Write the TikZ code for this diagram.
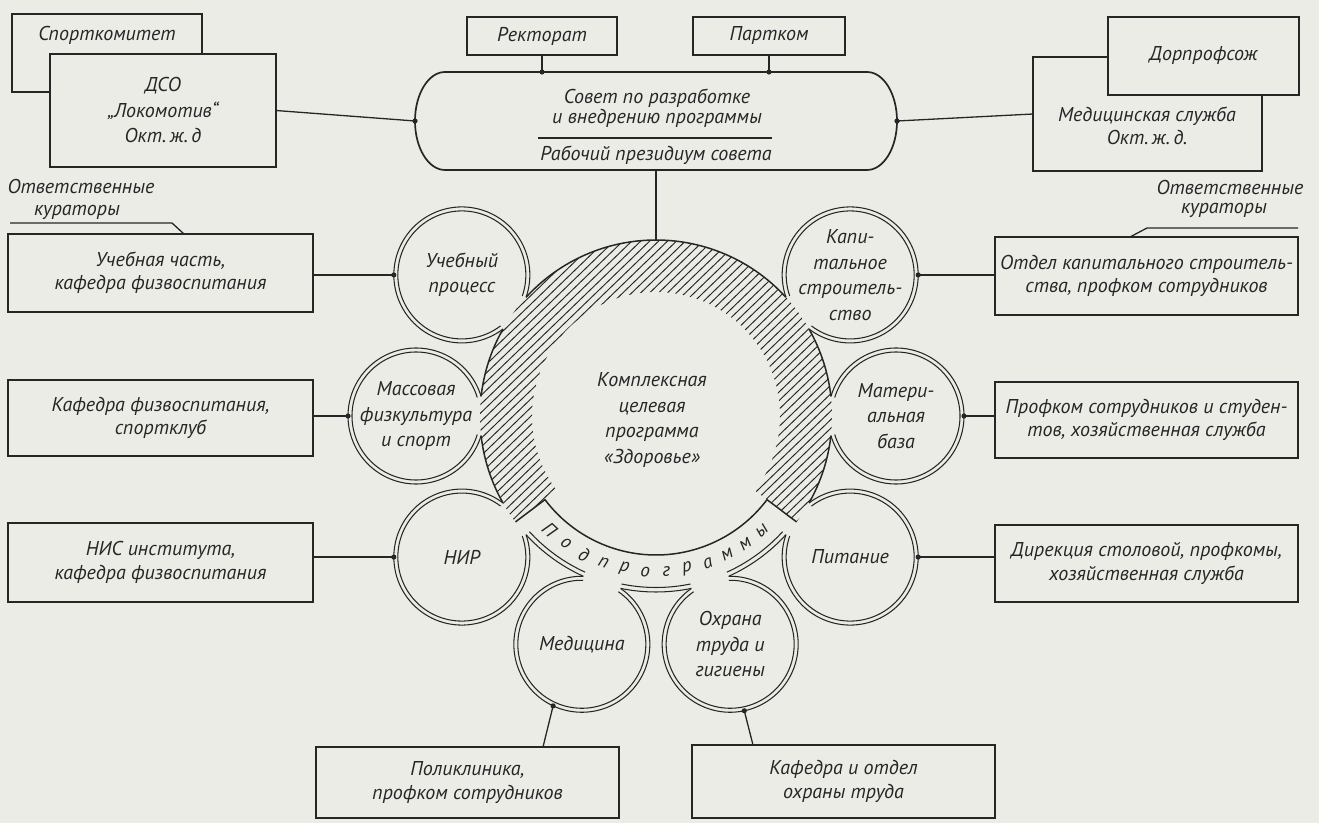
\documentclass[tikz,border=0pt]{standalone}
\usepackage{fontspec}
\setmainfont{PT Sans}
\usetikzlibrary{calc}
\definecolor{paper}{RGB}{236,236,231}
\definecolor{ink}{RGB}{38,38,38}
\begin{document}
\begin{tikzpicture}[x=1pt,y=1pt,
  txt/.style={font=\fontsize{20}{23.5}\selectfont\itshape, text=ink, inner sep=0pt, outer sep=0pt, align=center},
  wide/.style={font=\fontsize{20}{25.5}\selectfont\itshape},
  frame/.style={txt, draw=ink, line width=1.7pt, fill=paper},
  ringnode/.style={circle, minimum size=136pt, inner sep=0pt, outer sep=0pt},
  conn/.style={draw=ink, line width=1.3pt},
  rim/.style={draw=ink, line width=1.5pt},
  dbl/.style={draw=ink, line width=1.05pt},
  hatch/.style={draw=ink, line width=0.95pt},
  dot/.style={fill=ink},
]
\fill[paper] (0,0) rectangle (1319,823);
\useasboundingbox (0,0) rectangle (1319,823);

% centre of the programme ring
\coordinate (O) at (656,407);

% hatched ring
\begin{scope}
  \clip ($(O)+(-37:176)$) arc[start angle=-37, end angle=217, radius=176]
        -- ($(O)+(217:124)$) arc[start angle=217, end angle=-37, radius=124] -- cycle;
  \foreach \k in {-34,...,34}
    \draw[hatch, shift={(656,407)}, rotate=44] (-210,\k*6.2) -- (210,\k*6.2);
\end{scope}

% band of sub-programmes
\draw[rim] ($(O)+(217:176)$) -- ($(O)+(217:139)$)
  arc[start angle=217, end angle=323, radius=139] -- ($(O)+(323:176)$);

% outer rim between the sub-programme circles
\foreach \s/\e in {6.41/29.59, 42.41/137.59, 150.41/173.59, 186.41/209.59, 330.41/353.59}
  \draw[rim] ($(O)+(\s:176)$) arc[start angle=\s, end angle=\e, radius=176];
\foreach \s/\e in {222.41/245.59, 258.41/281.59, 294.41/317.59} {
  \draw[dbl] ($(O)+(\s:176)$) arc[start angle=\s, end angle=\e, radius=176];
  \draw[dbl] ($(O)+(\s:171.5)$) arc[start angle=\s, end angle=\e, radius=171.5];
}

% sub-programme circles (double outline, open towards the ring)
\foreach \n/\a in {mat/0, kap/36, uch/144, mas/180, nir/216, medc/252, ohr/288, pit/324} {
  \node[ringnode] (\n) at ($(O)+(\a:240)$) {};
  \draw[dbl] ($(\n.center)+({\a+196.8}:68)$) arc[start angle=\a+196.8, end angle=\a+523.2, radius=68];
  \draw[dbl] ($(\n.center)+({\a+196.8}:64)$) arc[start angle=\a+196.8, end angle=\a+523.2, radius=64];
}
\node[txt, wide] (matT) at (mat) {Матери-\\альная\\база};
\node[txt, wide] (kapT) at (kap) {Капи-\\тальное\\строитель-\\ство};
\node[txt, wide] (uchT) at (uch) {Учебный\\процесс};
\node[txt, wide] (masT) at (mas) {Массовая\\физкультура\\и спорт};
\node[txt] (nirT) at (nir) {НИР};
\node[txt] (medcT) at (medc) {Медицина};
\node[txt, wide] (ohrT) at (ohr) {Охрана\\труда и\\гигиены};
\node[txt] (pitT) at (pit) {Питание};

% centre text
\node[txt, wide] (prog) at (652,403) {Комплексная\\целевая\\программа\\«Здоровье»};

% lettering along the band
\foreach \ch [count=\i from 0] in {П,о,д,п,р,о,г,р,а,м,м,ы} {
  \pgfmathsetmacro\ang{227+\i*7.8}
  \pgfmathsetmacro\rot{\ang-270}
  \node[txt, font=\fontsize{19}{22}\selectfont\itshape, rotate=\rot] (band\i) at ($(O)+(\ang:156)$) {\ch};
}

% council
\node[minimum width=422pt, minimum height=98pt, inner sep=0pt, outer sep=0pt] (council) at (656,702) {};
\draw[rim, line width=1.7pt] (council.north west)
  arc[start angle=90, end angle=270, x radius=30, y radius=49] -- (council.south east)
  arc[start angle=-90, end angle=90, x radius=30, y radius=49] -- cycle;
\coordinate (cW) at ($(council.west)+(-30,0)$);
\coordinate (cE) at ($(council.east)+(30,0)$);
\node[txt] (c1) at (657,725) {Совет по разработке};
\node[txt] (c2) at (657,705) {и внедрению программы};
\draw[conn, line width=1.1pt] ($(council.center)+(-118,-17)$) -- ($(council.center)+(116,-17)$);
\node[txt] (c3) at (656,668) {Рабочий президиум совета};

% top boxes
\node[frame, minimum width=190pt, minimum height=78pt] (sport) at (107,770) {};
\node[txt] (sportT) at (107,788) {Спорткомитет};
\node[frame, wide, minimum width=226pt, minimum height=113pt] (dso) at (163,712.5) {ДСО\\„Локомотив“\\Окт.\,ж.\,д};
\node[frame, minimum width=150pt, minimum height=38pt] (rect) at (542,787) {Ректорат};
\node[frame, minimum width=152pt, minimum height=38pt] (part) at (769,787) {Партком};
\node[frame, minimum width=229pt, minimum height=114pt] (med) at (1147.5,709) {};
\node[txt] (medT) at (1147,697) {Медицинская служба\\Окт.\,ж.\,д.};
\node[frame, minimum width=191pt, minimum height=78pt] (dorp) at (1203.5,767) {Дорпрофсож};

% curator boxes
\node[frame, minimum width=305pt, minimum height=78pt] (uchb) at (160.5,550) {Учебная часть,\\кафедра физвоспитания};
\node[frame, minimum width=305pt, minimum height=76pt] (kafb) at (160.5,405) {Кафедра физвоспитания,\\спортклуб};
\node[frame, minimum width=305pt, minimum height=79pt] (nisb) at (160.5,260.5) {НИС института,\\кафедра физвоспитания};
\node[frame, minimum width=303pt, minimum height=78pt] (otdb) at (1146.5,547) {Отдел капитального строитель-\\ства, профком сотрудников};
\node[frame, minimum width=303pt, minimum height=76pt] (profb) at (1146.5,403) {Профком сотрудников и студен-\\тов, хозяйственная служба};
\node[frame, minimum width=303pt, minimum height=77pt] (dirb) at (1146.5,259.5) {Дирекция столовой, профкомы,\\хозяйственная служба};
\node[frame, minimum width=303pt, minimum height=71pt] (polb) at (467.5,40.5) {Поликлиника,\\профком сотрудников};
\node[frame, minimum width=303pt, minimum height=73pt] (ohrb) at (843.5,41.5) {Кафедра и отдел\\охраны труда};

% captions of the curator columns
\node[txt] (respL1) at (81,636) {Ответственные};
\node[txt] (respL2) at (77,611) {кураторы};
\node[txt] (respR1) at (1230,635) {Ответственные};
\node[txt] (respR2) at (1224,613) {кураторы};
\coordinate (tailL) at (10,600);
\coordinate (tailR) at (1298,595);
\draw[conn] (tailL) -- ++(162,0) -- ([xshift=23.5pt]uchb.north);
\draw[conn] (tailR) -- ++(-151,0) -- ([xshift=-16.5pt]otdb.north);

% connectors
\draw[conn] (dso.east) -- (cW);
\draw[conn] (med.west) -- (cE);
\draw[conn] (rect.south) -- (rect.south |- council.north);
\draw[conn] (part.south) -- (part.south |- council.north);
\draw[conn] (council.south) -- ($(O)+(90:176)$);
\fill[dot] (cW) circle (2.6);
\fill[dot] (cE) circle (2.6);
\fill[dot] (rect.south |- council.north) circle (2.6);
\fill[dot] (part.south |- council.north) circle (2.6);

\draw[conn] (uch.west -| uchb.east) -- (uch.west);
\draw[conn] (mas.west -| kafb.east) -- (mas.west);
\draw[conn] (nir.west -| nisb.east) -- (nir.west);
\draw[conn] (kap.east) -- (kap.east -| otdb.west);
\draw[conn] (mat.east) -- (mat.east -| profb.west);
\draw[conn] (pit.east) -- (pit.east -| dirb.west);
\draw[conn] (medc.245) -- ([xshift=75.5pt]polb.north);
\draw[conn] (ohr.282) -- ([xshift=-90.5pt]ohrb.north);
\foreach \p in {uch.west, mas.west, nir.west, kap.east, mat.east, pit.east, medc.245, ohr.282}
  \fill[dot] (\p) circle (2.6);
\end{tikzpicture}
\end{document}
